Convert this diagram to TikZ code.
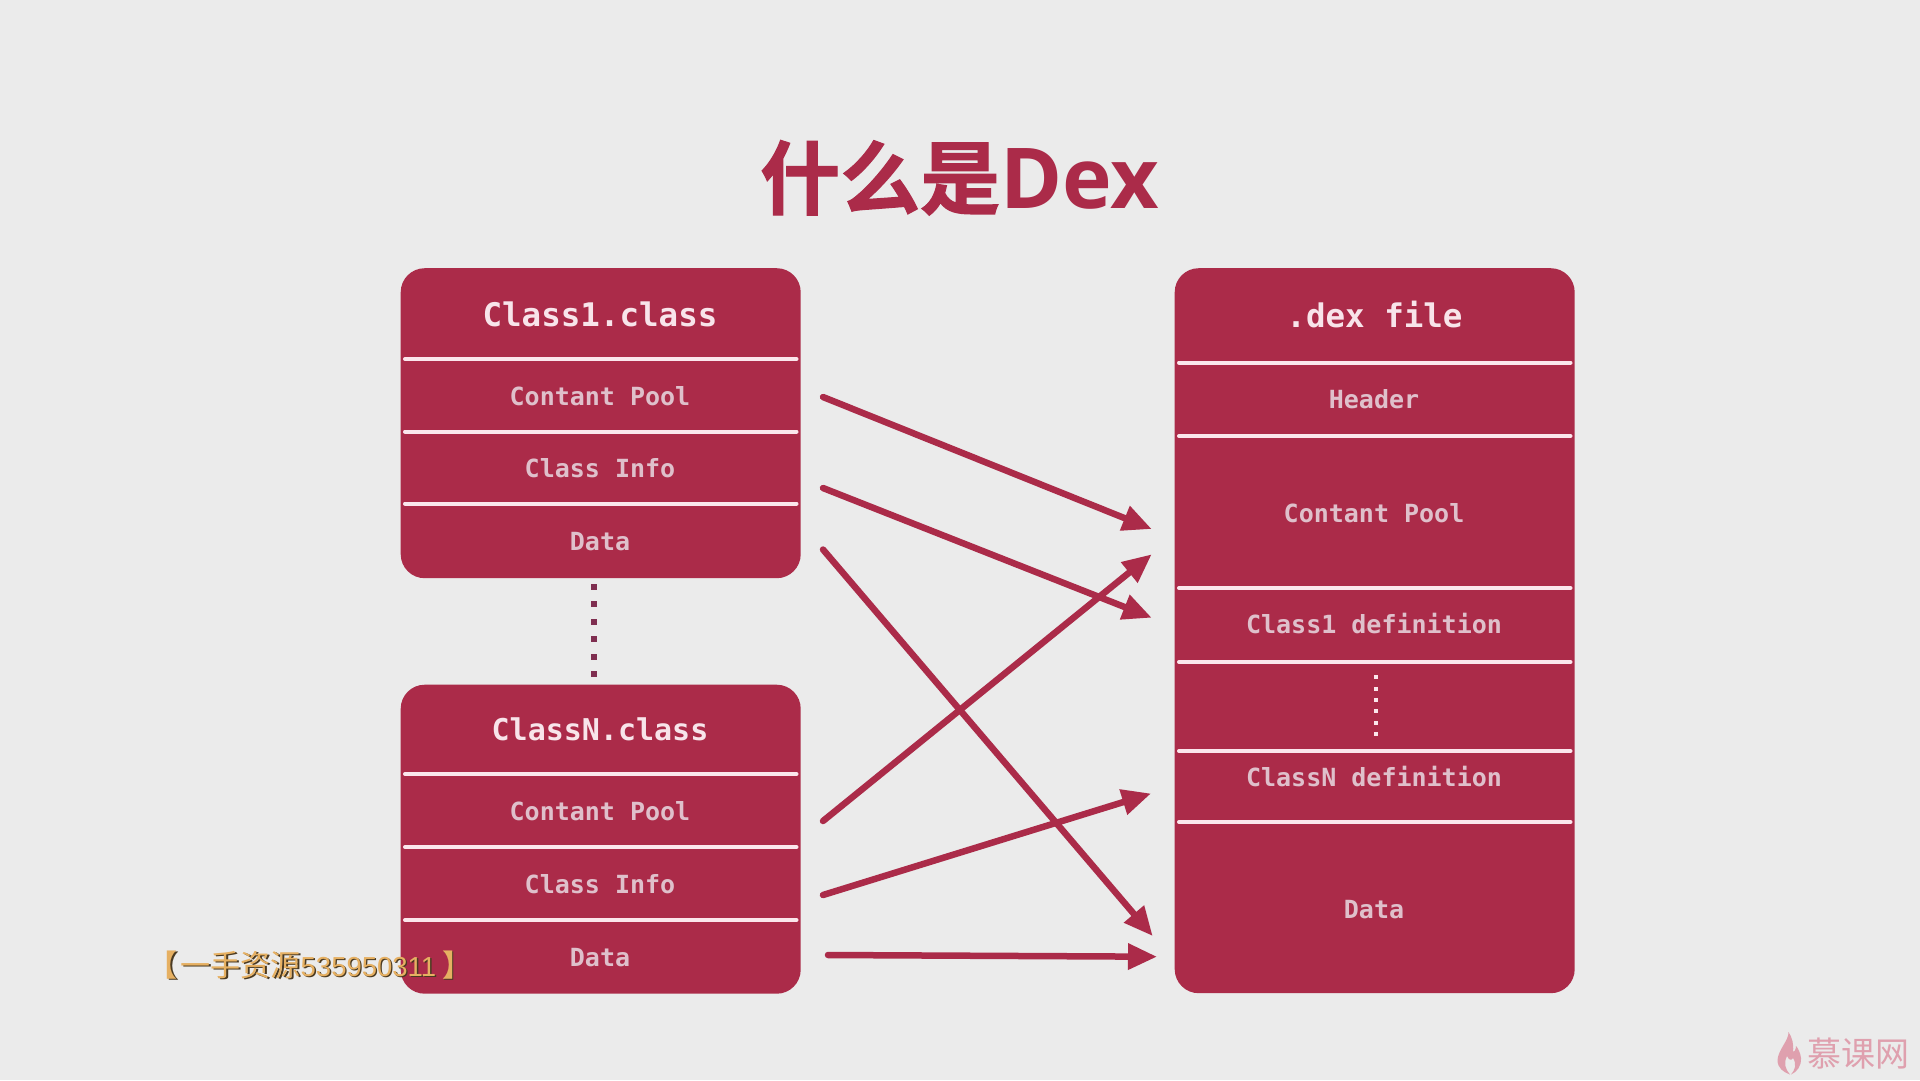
\documentclass[tikz,border=0pt]{standalone}
\usepackage{fontspec}
\usetikzlibrary{arrows.meta}
\setmonofont{DejaVu Sans Mono}[BoldFont={DejaVu Sans Mono Bold}]
\newfontfamily\cjkbold{Noto Sans CJK SC Bold}[FakeBold=1.5]
\newfontfamily\cjkbrk{Noto Sans CJK SC Bold}
\newfontfamily\cjkreg{Noto Sans CJK SC}
\newfontfamily\latinbold{Open Sans}[BoldFont={Open Sans Bold}]
\newfontfamily\wmlatin{Liberation Sans}
\definecolor{bg}{HTML}{EBEBEB}
\definecolor{boxc}{HTML}{AB2B49}
\definecolor{linec}{HTML}{FBE6EC}
\definecolor{headc}{HTML}{F8E4EA}
\definecolor{itemc}{HTML}{DFC0CB}
\definecolor{dotc}{HTML}{7F2E50}
\definecolor{gold}{HTML}{E6B062}
\definecolor{goldsh}{HTML}{4A3A22}
\definecolor{logoc}{HTML}{DFA0AE}
\newcommand{\wmtext}{{\cjkbrk\fontsize{30}{30}\selectfont 【}\hspace{3pt}{\cjkreg\fontsize{30}{30}\selectfont 一手资源}{\wmlatin\fontsize{27.5}{30}\selectfont 535950311}\hspace{6pt}{\cjkbrk\fontsize{30}{30}\selectfont 】}}
\tikzset{
  x=1pt,y=-1pt,
  panel/.style={fill=boxc,draw=none,rounded corners=24pt,minimum width=400pt,inner sep=0pt,anchor=north west},
  sepline/.style={draw=linec,line width=4pt,line cap=round},
  headtxt/.style={anchor=base,inner sep=0pt,text=headc,font=\ttfamily\bfseries\fontsize{32.5}{32}\selectfont},
  headsmall/.style={anchor=base,inner sep=0pt,text=headc,font=\ttfamily\bfseries\fontsize{30}{32}\selectfont},
  itemtxt/.style={anchor=base,inner sep=0pt,text=itemc,font=\ttfamily\bfseries\fontsize{25}{25}\selectfont},
  flow/.style={draw=boxc,line width=6.5pt,line cap=round,-{Triangle[length=29pt,width=25pt]}},
  wm/.style={anchor=base west,inner sep=0pt},
}
\begin{document}
\begin{tikzpicture}
\useasboundingbox[fill=bg] (0,0) rectangle (1920,1080);
% title
\node[anchor=base,inner sep=0pt,text=boxc] (title) at (959.5,208)
  {{\cjkbold\fontsize{80}{80}\selectfont 什么是}{\latinbold\bfseries\fontsize{84}{84}\selectfont Dex}};
% panels
\node[panel,minimum height=310pt] (p1) at (400.5,268) {};
\node[panel,minimum height=309pt] (pn) at (400.5,684.5) {};
\node[panel,minimum height=725pt] (pd) at (1174.5,268) {};
% separators
\foreach \n/\y in {a/359,b/431.5,c/503.5,d/774,e/847,f/920}{
  \coordinate (\n l) at (405,\y);
  \coordinate (\n r) at (796.5,\y);
  \draw[sepline] (\n l) -- (\n r);
}
\foreach \n/\y in {g/362.5,h/436,i/588,j/662,k/751,m/822}{
  \coordinate (\n l) at (1179,\y);
  \coordinate (\n r) at (1570.5,\y);
  \draw[sepline] (\n l) -- (\n r);
}
% texts left
\node[headtxt] (t1) at (600,326) {Class1.class};
\node[itemtxt] (t2) at (600,405) {Contant Pool};
\node[itemtxt] (t3) at (600,477) {Class Info};
\node[itemtxt] (t4) at (600,550) {Data};
\node[headsmall] (t5) at (600,740) {ClassN.class};
\node[itemtxt] (t6) at (600,820) {Contant Pool};
\node[itemtxt] (t7) at (600,893.5) {Class Info};
\node[itemtxt] (t8) at (600,966.5) {Data};
% texts right
\node[headtxt] (r1) at (1374.5,327.7) {.dex file};
\node[itemtxt] (r2) at (1374,408) {Header};
\node[itemtxt] (r3) at (1374,522) {Contant Pool};
\node[itemtxt] (r4) at (1374,633) {Class1 definition};
\node[itemtxt] (r5) at (1374,786.7) {ClassN definition};
\node[itemtxt] (r6) at (1374,918) {Data};
% dots
\foreach \i in {0,...,5}{
  \fill[dotc] ({593.7-3},{586.7+17.45*\i-3}) rectangle ++(6,6);
  \fill[linec] ({1375.7-2},{677.3+11.3*\i-2}) rectangle ++(4,4);
}
% arrows
\coordinate (s1) at (823,397);
\coordinate (e1) at (1151.7,529);
\coordinate (s2) at (823,488);
\coordinate (e2) at (1151.7,617.7);
\coordinate (s3) at (823,549.5);
\coordinate (e3) at (1152.7,936);
\coordinate (s4) at (823,821);
\coordinate (e4) at (1151.7,554.3);
\coordinate (s5) at (823,895);
\coordinate (e5) at (1151,793.5);
\coordinate (s6) at (828,955);
\coordinate (e6) at (1157,956.7);
\foreach \k in {1,...,6}{ \draw[flow] (s\k) -- (e\k); }
% logo
\fill[logoc] (1788.5,1032) .. controls (1789,1040) and (1778,1050) .. (1777.5,1060)
  .. controls (1777.5,1068) and (1783,1072) .. (1790,1074.5)
  .. controls (1786,1070) and (1783,1064) .. (1787,1056)
  .. controls (1789,1060) and (1791,1061) .. (1793,1058)
  .. controls (1797,1064) and (1795,1070) .. (1791,1074.5)
  .. controls (1797,1072) and (1801.5,1066) .. (1801,1058)
  .. controls (1800.5,1053) and (1798,1048) .. (1796,1046)
  .. controls (1796,1050) and (1794,1052) .. (1793,1052)
  .. controls (1794,1044) and (1792,1037) .. (1788.5,1032) -- cycle;
\node[anchor=base west,inner sep=0pt,text=logoc,font=\cjkreg\fontsize{34}{34}\selectfont] (logo) at (1807,1066.5) {慕课网};
% watermark
\node[wm,text=goldsh] (wms) at (148.8,977.8) {\wmtext};
\node[wm,text=gold] (wmt) at (147.5,976.5) {\wmtext};
\end{tikzpicture}
\end{document}
